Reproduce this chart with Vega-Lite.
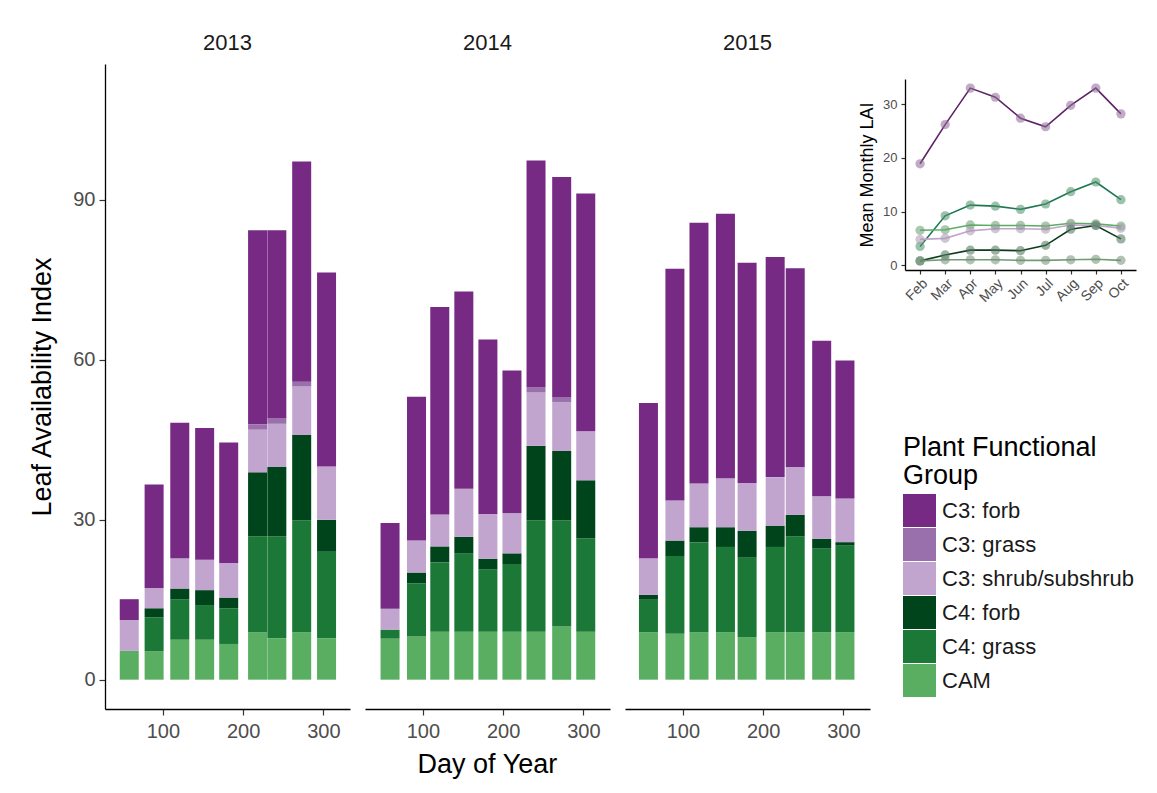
{
  "$schema": "https://vega.github.io/schema/vega-lite/v6.json",
  "background": "white",
  "padding": {"left": 28, "top": 32, "right": 5, "bottom": 5},
  "config": {
    "font": "Liberation Sans",
    "view": {"stroke": null},
    "axis": {
      "grid": false,
      "domainColor": "#000000",
      "domainWidth": 1.3,
      "tickColor": "#333333",
      "tickWidth": 1.2,
      "labelColor": "#4d4d4d",
      "titleColor": "#000000",
      "titleFontWeight": "normal"
    },
    "header": {"labelFont": "Liberation Sans", "labelFontSize": 22, "labelColor": "#1a1a1a", "labelPadding": 9}
  },
  "datasets": {
    "lai": [
      {"year": "2013", "doy": 58, "group": "CAM", "lai": 5.4},
      {"year": "2013", "doy": 58, "group": "C3: shrub/subshrub", "lai": 5.8},
      {"year": "2013", "doy": 58, "group": "C3: forb", "lai": 3.9},
      {"year": "2013", "doy": 89, "group": "CAM", "lai": 5.3},
      {"year": "2013", "doy": 89, "group": "C4: grass", "lai": 6.4},
      {"year": "2013", "doy": 89, "group": "C4: forb", "lai": 1.7},
      {"year": "2013", "doy": 89, "group": "C3: shrub/subshrub", "lai": 3.8},
      {"year": "2013", "doy": 89, "group": "C3: forb", "lai": 19.4},
      {"year": "2013", "doy": 121, "group": "CAM", "lai": 7.5},
      {"year": "2013", "doy": 121, "group": "C4: grass", "lai": 7.6},
      {"year": "2013", "doy": 121, "group": "C4: forb", "lai": 2.0},
      {"year": "2013", "doy": 121, "group": "C3: shrub/subshrub", "lai": 5.7},
      {"year": "2013", "doy": 121, "group": "C3: forb", "lai": 25.4},
      {"year": "2013", "doy": 152, "group": "CAM", "lai": 7.5},
      {"year": "2013", "doy": 152, "group": "C4: grass", "lai": 6.5},
      {"year": "2013", "doy": 152, "group": "C4: forb", "lai": 2.8},
      {"year": "2013", "doy": 152, "group": "C3: shrub/subshrub", "lai": 5.7},
      {"year": "2013", "doy": 152, "group": "C3: forb", "lai": 24.7},
      {"year": "2013", "doy": 182, "group": "CAM", "lai": 6.7},
      {"year": "2013", "doy": 182, "group": "C4: grass", "lai": 6.7},
      {"year": "2013", "doy": 182, "group": "C4: forb", "lai": 2.0},
      {"year": "2013", "doy": 182, "group": "C3: shrub/subshrub", "lai": 6.5},
      {"year": "2013", "doy": 182, "group": "C3: forb", "lai": 22.6},
      {"year": "2013", "doy": 218, "group": "CAM", "lai": 8.9},
      {"year": "2013", "doy": 218, "group": "C4: grass", "lai": 18.0},
      {"year": "2013", "doy": 218, "group": "C4: forb", "lai": 12.0},
      {"year": "2013", "doy": 218, "group": "C3: shrub/subshrub", "lai": 8.0},
      {"year": "2013", "doy": 218, "group": "C3: grass", "lai": 1.0},
      {"year": "2013", "doy": 218, "group": "C3: forb", "lai": 36.4},
      {"year": "2013", "doy": 242, "group": "CAM", "lai": 7.8},
      {"year": "2013", "doy": 242, "group": "C4: grass", "lai": 19.1},
      {"year": "2013", "doy": 242, "group": "C4: forb", "lai": 13.0},
      {"year": "2013", "doy": 242, "group": "C3: shrub/subshrub", "lai": 8.1},
      {"year": "2013", "doy": 242, "group": "C3: grass", "lai": 1.0},
      {"year": "2013", "doy": 242, "group": "C3: forb", "lai": 35.3},
      {"year": "2013", "doy": 273, "group": "CAM", "lai": 8.9},
      {"year": "2013", "doy": 273, "group": "C4: grass", "lai": 21.0},
      {"year": "2013", "doy": 273, "group": "C4: forb", "lai": 16.0},
      {"year": "2013", "doy": 273, "group": "C3: shrub/subshrub", "lai": 9.1},
      {"year": "2013", "doy": 273, "group": "C3: grass", "lai": 0.9},
      {"year": "2013", "doy": 273, "group": "C3: forb", "lai": 41.3},
      {"year": "2013", "doy": 304, "group": "CAM", "lai": 7.8},
      {"year": "2013", "doy": 304, "group": "C4: grass", "lai": 16.2},
      {"year": "2013", "doy": 304, "group": "C4: forb", "lai": 6.0},
      {"year": "2013", "doy": 304, "group": "C3: shrub/subshrub", "lai": 10.0},
      {"year": "2013", "doy": 304, "group": "C3: forb", "lai": 36.4},

      {"year": "2014", "doy": 59, "group": "CAM", "lai": 7.7},
      {"year": "2014", "doy": 59, "group": "C4: grass", "lai": 1.7},
      {"year": "2014", "doy": 59, "group": "C3: shrub/subshrub", "lai": 3.9},
      {"year": "2014", "doy": 59, "group": "C3: forb", "lai": 16.1},
      {"year": "2014", "doy": 92, "group": "CAM", "lai": 8.1},
      {"year": "2014", "doy": 92, "group": "C4: grass", "lai": 10.0},
      {"year": "2014", "doy": 92, "group": "C4: forb", "lai": 2.0},
      {"year": "2014", "doy": 92, "group": "C3: shrub/subshrub", "lai": 6.0},
      {"year": "2014", "doy": 92, "group": "C3: forb", "lai": 27.0},
      {"year": "2014", "doy": 121, "group": "CAM", "lai": 9.0},
      {"year": "2014", "doy": 121, "group": "C4: grass", "lai": 13.0},
      {"year": "2014", "doy": 121, "group": "C4: forb", "lai": 3.0},
      {"year": "2014", "doy": 121, "group": "C3: shrub/subshrub", "lai": 6.0},
      {"year": "2014", "doy": 121, "group": "C3: forb", "lai": 38.9},
      {"year": "2014", "doy": 151, "group": "CAM", "lai": 9.0},
      {"year": "2014", "doy": 151, "group": "C4: grass", "lai": 14.7},
      {"year": "2014", "doy": 151, "group": "C4: forb", "lai": 3.1},
      {"year": "2014", "doy": 151, "group": "C3: shrub/subshrub", "lai": 9.0},
      {"year": "2014", "doy": 151, "group": "C3: forb", "lai": 37.0},
      {"year": "2014", "doy": 181, "group": "CAM", "lai": 9.0},
      {"year": "2014", "doy": 181, "group": "C4: grass", "lai": 11.7},
      {"year": "2014", "doy": 181, "group": "C4: forb", "lai": 2.0},
      {"year": "2014", "doy": 181, "group": "C3: shrub/subshrub", "lai": 8.4},
      {"year": "2014", "doy": 181, "group": "C3: forb", "lai": 32.7},
      {"year": "2014", "doy": 211, "group": "CAM", "lai": 9.0},
      {"year": "2014", "doy": 211, "group": "C4: grass", "lai": 12.7},
      {"year": "2014", "doy": 211, "group": "C4: forb", "lai": 2.0},
      {"year": "2014", "doy": 211, "group": "C3: shrub/subshrub", "lai": 7.5},
      {"year": "2014", "doy": 211, "group": "C3: forb", "lai": 26.8},
      {"year": "2014", "doy": 241, "group": "CAM", "lai": 9.0},
      {"year": "2014", "doy": 241, "group": "C4: grass", "lai": 20.9},
      {"year": "2014", "doy": 241, "group": "C4: forb", "lai": 14.0},
      {"year": "2014", "doy": 241, "group": "C3: shrub/subshrub", "lai": 10.0},
      {"year": "2014", "doy": 241, "group": "C3: grass", "lai": 1.0},
      {"year": "2014", "doy": 241, "group": "C3: forb", "lai": 42.5},
      {"year": "2014", "doy": 273, "group": "CAM", "lai": 10.0},
      {"year": "2014", "doy": 273, "group": "C4: grass", "lai": 19.9},
      {"year": "2014", "doy": 273, "group": "C4: forb", "lai": 13.0},
      {"year": "2014", "doy": 273, "group": "C3: shrub/subshrub", "lai": 9.2},
      {"year": "2014", "doy": 273, "group": "C3: grass", "lai": 0.9},
      {"year": "2014", "doy": 273, "group": "C3: forb", "lai": 41.3},
      {"year": "2014", "doy": 303, "group": "CAM", "lai": 9.0},
      {"year": "2014", "doy": 303, "group": "C4: grass", "lai": 17.5},
      {"year": "2014", "doy": 303, "group": "C4: forb", "lai": 10.9},
      {"year": "2014", "doy": 303, "group": "C3: shrub/subshrub", "lai": 9.2},
      {"year": "2014", "doy": 303, "group": "C3: forb", "lai": 44.6},

      {"year": "2015", "doy": 57, "group": "CAM", "lai": 8.9},
      {"year": "2015", "doy": 57, "group": "C4: grass", "lai": 6.1},
      {"year": "2015", "doy": 57, "group": "C4: forb", "lai": 0.9},
      {"year": "2015", "doy": 57, "group": "C3: shrub/subshrub", "lai": 6.9},
      {"year": "2015", "doy": 57, "group": "C3: forb", "lai": 29.1},
      {"year": "2015", "doy": 90, "group": "CAM", "lai": 8.6},
      {"year": "2015", "doy": 90, "group": "C4: grass", "lai": 14.6},
      {"year": "2015", "doy": 90, "group": "C4: forb", "lai": 2.9},
      {"year": "2015", "doy": 90, "group": "C3: shrub/subshrub", "lai": 7.5},
      {"year": "2015", "doy": 90, "group": "C3: forb", "lai": 43.5},
      {"year": "2015", "doy": 120, "group": "CAM", "lai": 8.9},
      {"year": "2015", "doy": 120, "group": "C4: grass", "lai": 16.9},
      {"year": "2015", "doy": 120, "group": "C4: forb", "lai": 2.8},
      {"year": "2015", "doy": 120, "group": "C3: shrub/subshrub", "lai": 8.2},
      {"year": "2015", "doy": 120, "group": "C3: forb", "lai": 48.9},
      {"year": "2015", "doy": 153, "group": "CAM", "lai": 8.9},
      {"year": "2015", "doy": 153, "group": "C4: grass", "lai": 16.0},
      {"year": "2015", "doy": 153, "group": "C4: forb", "lai": 3.7},
      {"year": "2015", "doy": 153, "group": "C3: shrub/subshrub", "lai": 9.2},
      {"year": "2015", "doy": 153, "group": "C3: forb", "lai": 49.6},
      {"year": "2015", "doy": 180, "group": "CAM", "lai": 8.0},
      {"year": "2015", "doy": 180, "group": "C4: grass", "lai": 14.9},
      {"year": "2015", "doy": 180, "group": "C4: forb", "lai": 5.0},
      {"year": "2015", "doy": 180, "group": "C3: shrub/subshrub", "lai": 9.0},
      {"year": "2015", "doy": 180, "group": "C3: forb", "lai": 41.3},
      {"year": "2015", "doy": 215, "group": "CAM", "lai": 8.9},
      {"year": "2015", "doy": 215, "group": "C4: grass", "lai": 16.0},
      {"year": "2015", "doy": 215, "group": "C4: forb", "lai": 4.0},
      {"year": "2015", "doy": 215, "group": "C3: shrub/subshrub", "lai": 9.1},
      {"year": "2015", "doy": 215, "group": "C3: forb", "lai": 41.3},
      {"year": "2015", "doy": 240, "group": "CAM", "lai": 8.9},
      {"year": "2015", "doy": 240, "group": "C4: grass", "lai": 18.0},
      {"year": "2015", "doy": 240, "group": "C4: forb", "lai": 4.0},
      {"year": "2015", "doy": 240, "group": "C3: shrub/subshrub", "lai": 9.0},
      {"year": "2015", "doy": 240, "group": "C3: forb", "lai": 37.3},
      {"year": "2015", "doy": 273, "group": "CAM", "lai": 8.9},
      {"year": "2015", "doy": 273, "group": "C4: grass", "lai": 15.7},
      {"year": "2015", "doy": 273, "group": "C4: forb", "lai": 1.8},
      {"year": "2015", "doy": 273, "group": "C3: shrub/subshrub", "lai": 8.0},
      {"year": "2015", "doy": 273, "group": "C3: forb", "lai": 29.2},
      {"year": "2015", "doy": 302, "group": "CAM", "lai": 8.9},
      {"year": "2015", "doy": 302, "group": "C4: grass", "lai": 16.3},
      {"year": "2015", "doy": 302, "group": "C4: forb", "lai": 0.6},
      {"year": "2015", "doy": 302, "group": "C3: shrub/subshrub", "lai": 8.2},
      {"year": "2015", "doy": 302, "group": "C3: forb", "lai": 25.9}
    ],
    "monthly": [
      {"month": "Feb", "group": "C3: forb", "lai": 18.9},
      {"month": "Mar", "group": "C3: forb", "lai": 26.2},
      {"month": "Apr", "group": "C3: forb", "lai": 33.0},
      {"month": "May", "group": "C3: forb", "lai": 31.3},
      {"month": "Jun", "group": "C3: forb", "lai": 27.4},
      {"month": "Jul", "group": "C3: forb", "lai": 25.8},
      {"month": "Aug", "group": "C3: forb", "lai": 29.8},
      {"month": "Sep", "group": "C3: forb", "lai": 33.0},
      {"month": "Oct", "group": "C3: forb", "lai": 28.2},
      {"month": "Feb", "group": "C4: grass", "lai": 3.5},
      {"month": "Mar", "group": "C4: grass", "lai": 9.2},
      {"month": "Apr", "group": "C4: grass", "lai": 11.2},
      {"month": "May", "group": "C4: grass", "lai": 11.0},
      {"month": "Jun", "group": "C4: grass", "lai": 10.4},
      {"month": "Jul", "group": "C4: grass", "lai": 11.4},
      {"month": "Aug", "group": "C4: grass", "lai": 13.7},
      {"month": "Sep", "group": "C4: grass", "lai": 15.5},
      {"month": "Oct", "group": "C4: grass", "lai": 12.2},
      {"month": "Feb", "group": "CAM", "lai": 6.5},
      {"month": "Mar", "group": "CAM", "lai": 6.6},
      {"month": "Apr", "group": "CAM", "lai": 7.5},
      {"month": "May", "group": "CAM", "lai": 7.4},
      {"month": "Jun", "group": "CAM", "lai": 7.4},
      {"month": "Jul", "group": "CAM", "lai": 7.3},
      {"month": "Aug", "group": "CAM", "lai": 7.8},
      {"month": "Sep", "group": "CAM", "lai": 7.7},
      {"month": "Oct", "group": "CAM", "lai": 7.3},
      {"month": "Feb", "group": "C3: shrub/subshrub", "lai": 4.8},
      {"month": "Mar", "group": "C3: shrub/subshrub", "lai": 5.0},
      {"month": "Apr", "group": "C3: shrub/subshrub", "lai": 6.4},
      {"month": "May", "group": "C3: shrub/subshrub", "lai": 6.8},
      {"month": "Jun", "group": "C3: shrub/subshrub", "lai": 6.8},
      {"month": "Jul", "group": "C3: shrub/subshrub", "lai": 6.7},
      {"month": "Aug", "group": "C3: shrub/subshrub", "lai": 7.5},
      {"month": "Sep", "group": "C3: shrub/subshrub", "lai": 7.4},
      {"month": "Oct", "group": "C3: shrub/subshrub", "lai": 6.9},
      {"month": "Feb", "group": "C4: forb", "lai": 0.8},
      {"month": "Mar", "group": "C4: forb", "lai": 1.9},
      {"month": "Apr", "group": "C4: forb", "lai": 2.8},
      {"month": "May", "group": "C4: forb", "lai": 2.8},
      {"month": "Jun", "group": "C4: forb", "lai": 2.7},
      {"month": "Jul", "group": "C4: forb", "lai": 3.7},
      {"month": "Aug", "group": "C4: forb", "lai": 6.7},
      {"month": "Sep", "group": "C4: forb", "lai": 7.4},
      {"month": "Oct", "group": "C4: forb", "lai": 4.9},
      {"month": "Feb", "group": "C3: grass", "lai": 0.8},
      {"month": "Mar", "group": "C3: grass", "lai": 1.0},
      {"month": "Apr", "group": "C3: grass", "lai": 1.0},
      {"month": "May", "group": "C3: grass", "lai": 1.0},
      {"month": "Jun", "group": "C3: grass", "lai": 0.9},
      {"month": "Jul", "group": "C3: grass", "lai": 0.9},
      {"month": "Aug", "group": "C3: grass", "lai": 1.0},
      {"month": "Sep", "group": "C3: grass", "lai": 1.1},
      {"month": "Oct", "group": "C3: grass", "lai": 0.9}
    ]
  },
  "hconcat": [
    {
      "data": {"name": "lai"},
      "title": {"text": "Day of Year", "orient": "bottom", "anchor": "middle", "fontSize": 27, "fontWeight": "normal", "color": "#000000", "offset": 11, "dx": 38},
      "facet": {
        "column": {"field": "year", "type": "ordinal", "header": {"title": null}}
      },
      "spacing": 15,
      "spec": {
        "width": 245,
        "height": 645,
        "mark": {"type": "bar", "width": 19},
        "encoding": {
          "x": {
            "field": "doy",
            "type": "quantitative",
            "scale": {"domain": [34, 327], "nice": false, "zero": false},
            "axis": {"values": [100, 200, 300], "title": null, "labelFontSize": 20, "tickSize": 6, "labelPadding": 6}
          },
          "y": {
            "field": "lai",
            "type": "quantitative",
            "stack": "zero",
            "scale": {"domain": [-5.5, 115.5], "nice": false, "zero": false},
            "axis": {"values": [0, 30, 60, 90], "title": "Leaf Availability Index", "labelFontSize": 20, "titleFontSize": 27, "tickSize": 6, "labelPadding": 4, "titlePadding": 16}
          },
          "color": {
            "field": "group",
            "type": "nominal",
            "scale": {
              "domain": ["C3: forb", "C3: grass", "C3: shrub/subshrub", "C4: forb", "C4: grass", "CAM"],
              "range": ["#762a83", "#9970ab", "#c2a5cf", "#00441b", "#1b7837", "#5aae61"]
            },
            "legend": {
              "orient": "none",
              "legendX": 798,
              "legendY": 371,
              "title": ["Plant Functional", "Group"],
              "titleFontSize": 27,
              "titleFontWeight": "normal",
              "titleColor": "#000000",
              "titleLineHeight": 28,
              "titlePadding": 4,
              "titleLimit": 400,
              "labelFontSize": 22,
              "labelColor": "#1a1a1a",
              "labelLimit": 400,
              "labelOffset": 6,
              "symbolType": "square",
              "symbolSize": 1089,
              "symbolStrokeWidth": 0,
              "symbolOpacity": 1,
              "rowPadding": 1
            }
          },
          "order": {"field": "group", "sort": "descending"}
        }
      }
    },
    {
      "spacing": 0,
      "vconcat": [
        {
          "width": 231,
          "height": 15,
          "data": {"values": []},
          "mark": {"type": "point"},
          "encoding": {}
        },
        {
          "data": {"name": "monthly"},
          "width": 231,
          "height": 191,
          "encoding": {
            "x": {
              "field": "month",
              "type": "ordinal",
              "sort": ["Feb", "Mar", "Apr", "May", "Jun", "Jul", "Aug", "Sep", "Oct"],
              "scale": {"type": "point", "padding": 0.6},
              "axis": {"title": null, "labelAngle": -45, "labelAlign": "right", "labelBaseline": "top", "labelFontSize": 14, "tickSize": 4, "labelPadding": 2}
            },
            "y": {
              "field": "lai",
              "type": "quantitative",
              "scale": {"domain": [-0.9, 34.7], "nice": false, "zero": false},
              "axis": {"values": [0, 10, 20, 30], "title": "Mean Monthly LAI", "labelFontSize": 13, "titleFontSize": 18, "tickSize": 4, "labelPadding": 4, "titlePadding": 6}
            }
          },
          "layer": [
            {
              "mark": {"type": "line", "strokeWidth": 1.6},
              "encoding": {
                "stroke": {
                  "field": "group",
                  "type": "nominal",
                  "scale": {
                    "domain": ["C3: forb", "C3: grass", "C3: shrub/subshrub", "C4: forb", "C4: grass", "CAM"],
                    "range": ["#5e2266", "#6f9c72", "#c2a5cf", "#0d3b1e", "#1b7850", "#5aae61"]
                  },
                  "legend": null
                }
              }
            },
            {
              "mark": {"type": "point", "filled": true, "size": 85, "color": "#8c8c8c", "opacity": 0.35},
              "encoding": {"detail": {"field": "group", "type": "nominal"}}
            },
            {
              "mark": {"type": "point", "filled": true, "size": 85, "opacity": 0.35},
              "encoding": {
                "fill": {
                  "field": "group",
                  "type": "nominal",
                  "scale": {
                    "domain": ["C3: forb", "C3: grass", "C3: shrub/subshrub", "C4: forb", "C4: grass", "CAM"],
                    "range": ["#9a5aa6", "#6f9c72", "#c2a5cf", "#2c6b3e", "#2f9a5e", "#5aae61"]
                  },
                  "legend": null
                }
              }
            }
          ]
        }
      ]
    }
  ],
  "spacing": -12,
  "resolve": {"scale": {"x": "independent", "y": "independent"}}
}
